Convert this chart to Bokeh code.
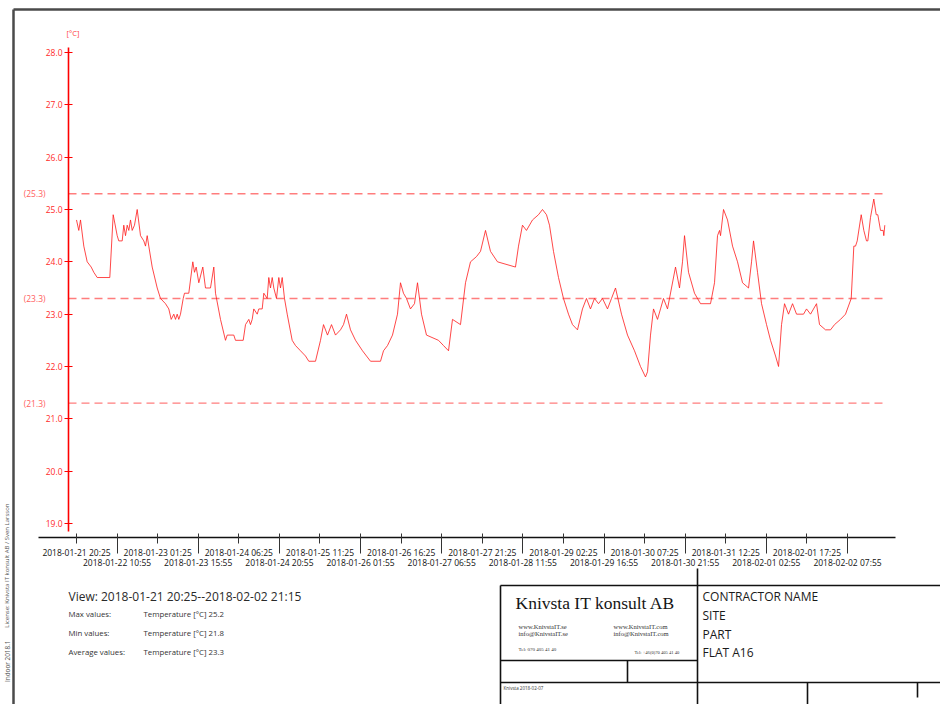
from datetime import datetime
from math import pi
from bokeh.plotting import figure
from bokeh.models import Range1d, LinearAxis, FixedTicker, PrintfTickFormatter, DatetimeTickFormatter
from bokeh.core.properties import value
from bokeh.embed import file_html
from bokeh.resources import INLINE

# ---------------- data ----------------
start_label = "2018-01-21 20:25"
end_label = "2018-02-02 21:15"

hours = [0, 0.82, 1.43, 2.61, 3.82, 5.25, 6.18, 7.40, 11.90, 13.11, 14.54, 15.11, 16.33, 16.90,
         17.51, 18.12, 18.69, 19.30, 19.90, 20.72, 21.69, 22.87, 24.05, 24.66, 25.26, 25.83,
         27.05, 28.84, 30.01, 31.80, 32.98, 33.84, 34.77, 35.38, 35.98, 36.55, 37.16, 38.13,
         38.59, 40.13, 41.56, 42.16, 42.77, 43.70, 45.13, 46.09, 47.88, 49.06, 49.67, 51.45,
         53.24, 53.85, 56.21, 56.81, 59.57, 60.39, 61.57, 62.17, 62.78, 63.35, 64.57, 65.14,
         66.36, 66.93, 68.14, 68.71, 69.32, 69.93, 70.50, 71.46, 72.29, 72.89, 73.50, 74.32,
         75.29, 77.07, 78.25, 80.04, 81.83, 83.01, 85.40, 87.19, 88.26, 89.69, 91.12, 92.55,
         94.33, 95.41, 96.48, 97.91, 99.70, 102.20, 103.63, 105.06, 108.63, 109.70, 111.13,
         112.91, 114.70, 115.77, 116.84, 117.92, 119.34, 120.77, 121.85, 123.28, 125.06,
         129.35, 131.14, 132.93, 134.35, 137.21, 139.00, 140.79, 142.93, 144.36, 146.15,
         147.93, 150.43, 156.86, 157.94, 159.36, 160.79, 162.94, 165.08, 166.51, 167.94,
         169.01, 170.44, 172.23, 174.01, 175.80, 177.23, 179.02, 180.80, 182.23, 183.66,
         185.09, 186.52, 187.95, 189.74, 191.17, 192.60, 194.74, 196.89, 199.39, 201.53,
         203.32, 204.04, 205.11, 206.18, 207.61, 208.68, 209.75, 211.18, 212.61, 214.04,
         215.47, 216.54, 217.26, 218.69, 220.83, 222.98, 226.55, 227.98, 229.05, 229.77,
         230.13, 231.20, 232.63, 234.42, 236.20, 237.99, 240.14, 241.21, 241.92, 243.35,
         244.78, 246.57, 248.00, 249.79, 250.86, 251.93, 253.00, 254.43, 255.86, 257.29,
         259.79, 260.86, 262.29, 264.43, 265.50, 267.65, 269.43, 270.86, 273.00, 274.79,
         276.83, 277.76, 278.37, 278.97, 280.40, 281.33, 282.29, 282.76, 283.72, 284.90,
         285.76, 286.33, 287.30, 288.26, 288.47, 288.83]

temps = [24.8, 24.6, 24.8, 24.3, 24.0, 23.9, 23.8, 23.7, 23.7, 24.9, 24.5, 24.4, 24.4, 24.7,
         24.5, 24.7, 24.6, 24.8, 24.6, 24.7, 25.0, 24.5, 24.4, 24.3, 24.5, 24.3,
         23.9, 23.5, 23.3, 23.2, 23.1, 22.9, 23.0, 22.9, 23.0, 22.9, 23.0, 23.3,
         23.4, 23.4, 24.0, 23.8, 23.9, 23.6, 23.9, 23.5, 23.5, 23.9, 23.4, 22.9,
         22.5, 22.6, 22.6, 22.5, 22.5, 22.8, 22.9, 22.8, 22.9, 23.1, 23.0, 23.1,
         23.1, 23.4, 23.3, 23.7, 23.5, 23.7, 23.5, 23.3, 23.7, 23.5, 23.7, 23.3,
         23.0, 22.5, 22.4, 22.3, 22.2, 22.1, 22.1, 22.5, 22.8, 22.6, 22.8, 22.6,
         22.7, 22.8, 23.0, 22.7, 22.5, 22.3, 22.2, 22.1, 22.1, 22.3, 22.4,
         22.6, 23.0, 23.6, 23.4, 23.3, 23.1, 23.2, 23.6, 23.0, 22.6,
         22.5, 22.4, 22.3, 22.9, 22.8, 23.6, 24.0, 24.1, 24.2, 24.6,
         24.2, 24.0, 23.9, 24.3, 24.7, 24.6, 24.8, 24.9, 25.0, 24.9,
         24.7, 24.2, 23.7, 23.3, 23.0, 22.8, 22.7, 23.1, 23.3, 23.1,
         23.3, 23.2, 23.3, 23.1, 23.3, 23.5, 23.0, 22.6, 22.3, 22.0,
         21.8, 21.9, 22.6, 23.1, 22.9, 23.1, 23.3, 23.1, 23.5, 23.9,
         23.5, 24.0, 24.5, 23.8, 23.4, 23.2, 23.2, 23.6, 24.5, 24.6,
         24.5, 25.0, 24.8, 24.3, 24.0, 23.6, 23.5, 24.0, 24.4, 23.8,
         23.2, 22.8, 22.5, 22.2, 22.0, 22.8, 23.2, 23.0, 23.2, 23.0,
         23.0, 23.1, 23.0, 23.2, 22.8, 22.7, 22.7, 22.8, 22.9, 23.0,
         23.3, 24.3, 24.3, 24.4, 24.9, 24.6, 24.4, 24.4, 24.85, 25.2,
         24.9, 24.9, 24.6, 24.6, 24.5, 24.7]

tick_labels = ["2018-01-21 20:25", "2018-01-22 10:55", "2018-01-23 01:25", "2018-01-23 15:55",
               "2018-01-24 06:25", "2018-01-24 20:55", "2018-01-25 11:25", "2018-01-26 01:55",
               "2018-01-26 16:25", "2018-01-27 06:55", "2018-01-27 21:25", "2018-01-28 11:55",
               "2018-01-29 02:25", "2018-01-29 16:55", "2018-01-30 07:25", "2018-01-30 21:55",
               "2018-01-31 12:25", "2018-02-01 02:55", "2018-02-01 17:25", "2018-02-02 07:55"]
y_ticks = [19.0, 20.0, 21.0, 22.0, 23.0, 24.0, 25.0, 26.0, 27.0, 28.0]
limits = [25.3, 23.3, 21.3]
stat_names = ["Max values:", "Min values:", "Average values:"]
stat_values = [25.2, 21.8, 23.3]
unit = "[°C]"
company = "Knivsta IT konsult AB"
contractor_lines = ["CONTRACTOR NAME", "SITE", "PART", "FLAT A16"]

# ---------------- helpers ----------------
FMT = "%Y-%m-%d %H:%M"
EPOCH = datetime(1970, 1, 1)
HOUR = 3600e3


def to_ms(label):
    return (datetime.strptime(label, FMT) - EPOCH).total_seconds() * 1000.0


x0 = to_ms(start_label)
x_end = to_ms(end_label)
xs = [x0 + h * HOUR for h in hours]
tick_ms = [to_ms(s) for s in tick_labels]

W, H = 940, 704
p = figure(width=W, height=H, output_backend="svg", toolbar_location=None,
           x_axis_type=None, y_axis_type=None,
           x_range=Range1d(x0 - 27.157 * HOUR, x0 + 308.73 * HOUR),
           y_range=Range1d(15.541, 28.9936), min_border=0)
p.outline_line_color = None
p.background_fill_color = "white"
p.border_fill_color = "white"
p.extra_x_ranges = {"px": Range1d(0, W)}
p.extra_y_ranges = {"px": Range1d(H, 0)}

FONT = value("Open Sans")
y_axis_x = x0 - 2.86 * HOUR
x_axis_y = 18.732

# y axis
yax = LinearAxis(fixed_location=y_axis_x, bounds=(18.85, 28.1),
                 ticker=FixedTicker(ticks=y_ticks, minor_ticks=[]),
                 formatter=PrintfTickFormatter(format="%.1f"),
                 axis_line_color="#ff0000", axis_line_width=1.6,
                 major_tick_line_color="#ff0000", major_tick_line_width=1.2,
                 major_tick_in=4, major_tick_out=4,
                 minor_tick_line_color=None,
                 major_label_text_color="#ff2a2a", major_label_text_font="Open Sans",
                 major_label_text_font_size="8.5px", major_label_standoff=2)
p.add_layout(yax, "left")

dt_fmt = DatetimeTickFormatter(microseconds=FMT, milliseconds=FMT, seconds=FMT, minsec=FMT,
                               minutes=FMT, hourmin=FMT, hours=FMT, days=FMT, months=FMT, years=FMT)

top_ticks = tick_ms[0::2]
bot_ticks = tick_ms[1::2]
xax1 = LinearAxis(fixed_location=x_axis_y, bounds=(x0 - 13.58 * HOUR, x0 + 292.65 * HOUR),
                  ticker=FixedTicker(ticks=top_ticks, minor_ticks=[]),
                  formatter=dt_fmt,
                  major_label_overrides={int(t): s for t, s in zip(tick_ms[0::2], tick_labels[0::2])},
                  axis_line_color="#111111", axis_line_width=1.5,
                  major_tick_line_color="#333333", major_tick_line_width=1,
                  major_tick_in=4, major_tick_out=6, minor_tick_line_color=None,
                  major_label_text_color="#111111", major_label_text_font="Open Sans",
                  major_label_text_font_size="8.5px", major_label_standoff=3)
xax2 = LinearAxis(fixed_location=x_axis_y, bounds=(x0 - 13.58 * HOUR, x0 + 292.65 * HOUR),
                  ticker=FixedTicker(ticks=bot_ticks, minor_ticks=[]),
                  formatter=dt_fmt,
                  major_label_overrides={int(t): s for t, s in zip(tick_ms[1::2], tick_labels[1::2])},
                  axis_line_color=None,
                  major_tick_line_color="#333333", major_tick_line_width=1,
                  major_tick_in=4, major_tick_out=16, minor_tick_line_color=None,
                  major_label_text_color="#111111", major_label_text_font="Open Sans",
                  major_label_text_font_size="8.5px", major_label_standoff=3)
p.add_layout(xax1, "below")
p.add_layout(xax2, "below")

# limit lines
p.segment(x0=[y_axis_x] * len(limits), y0=limits, x1=[x_end] * len(limits), y1=limits,
          line_color="#ff6f6f", line_width=1.4, line_dash="8 5", line_alpha=0.9)
p.text(x=[45] * len(limits), y=limits, text=[f"({v:.1f})" for v in limits],
       x_range_name="px", text_align="right", text_baseline="middle",
       text_font=FONT, text_font_size=value("8.5px"), text_color="#ff6060")

# data line
p.line(xs, temps, line_color="#ff1a1a", line_width=1, line_alpha=0.8)

# unit label
p.text(x=[66], y=[32], text=[unit], x_range_name="px", y_range_name="px",
       text_align="left", text_baseline="middle", text_font=FONT,
       text_font_size=value("7.5px"), text_color="#ff4040")

# page frame
seg_kw = dict(x_range_name="px", y_range_name="px")
p.segment(x0=[13, 13], y0=[9, 9], x1=[940, 13], y1=[9, 704], line_color="#4a4a4a",
          line_width=2.5, **seg_kw)

# title block lines
tb_x0 = [500, 500, 697, 500, 627, 500, 807, 917]
tb_y0 = [585, 585, 568, 660, 660, 682, 682, 682]
tb_x1 = [940, 500, 697, 697, 627, 940, 807, 917]
tb_y1 = [585, 704, 704, 660, 682, 682, 704, 697]
p.segment(x0=tb_x0, y0=tb_y0, x1=tb_x1, y1=tb_y1, line_color="#111111", line_width=1.6, **seg_kw)


def txt(x, y, s, size, color="#222222", font=FONT, align="left", angle=0.0):
    p.text(x=[x], y=[y], text=[s], x_range_name="px", y_range_name="px",
           text_align=align, text_baseline="middle", text_font=font,
           text_font_size=value(size), text_color=color, angle=angle)


# view / stats
txt(68, 596, f"View: {start_label}--{end_label}", "12px", "#2a2a2a")
for i, (n, v) in enumerate(zip(stat_names, stat_values)):
    yy = [613, 632, 651][i]
    txt(68, yy, n, "7.8px", "#333333")
    txt(143, yy, f"Temperature {unit} {v}", "7.8px", "#333333")

# company block
SERIF = value("Liberation Serif")
txt(515, 602, company, "17.5px", "#151515", SERIF)
txt(518, 626, "www.KnivstaIT.se", "6.5px", "#333333", SERIF)
txt(518, 633, "info@KnivstaIT.se", "6.5px", "#333333", SERIF)
txt(518, 649, "Tel: 070 405 41 40", "5px", "#333333", SERIF)
txt(613, 626, "www.KnivstaIT.com", "6.5px", "#333333", SERIF)
txt(613, 633, "info@KnivstaIT.com", "6.5px", "#333333", SERIF)
txt(634, 652, "Tel: +46(0)70 405 41 40", "4.6px", "#333333", SERIF)
txt(503, 687, "Knivsta   2018-02-07", "4.5px", "#333333")

for i, s in enumerate(contractor_lines):
    txt(702, [596, 615, 634, 652][i], s, "12px", "#1a1a1a")

# vertical licence text
txt(6.5, 503, "License: Knivsta IT konsult AB / Sven Larsson", "6px", "#555555",
    align="right", angle=pi / 2)
txt(6.5, 640, "Indoor 2018.1", "6.4px", "#555555", align="right", angle=pi / 2)

open("out.html", "w").write(file_html(p, INLINE))
